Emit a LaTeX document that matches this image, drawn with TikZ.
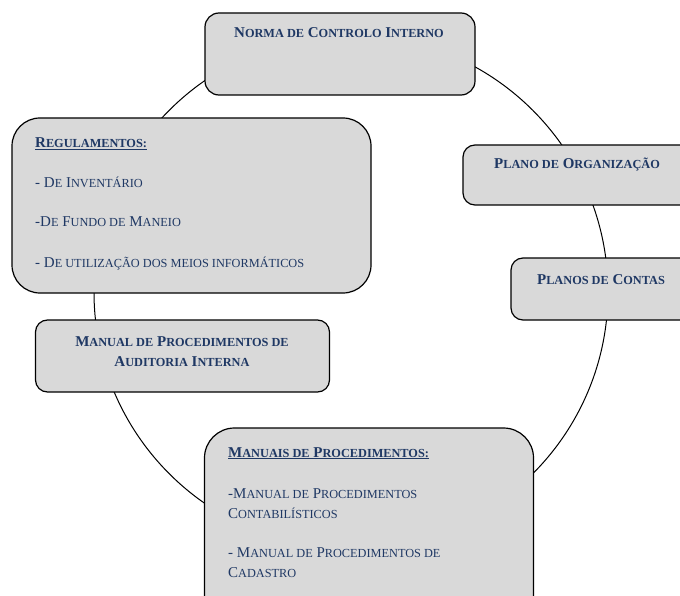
\documentclass[tikz,border=0pt]{standalone}
\usepackage{fontspec}
\setmainfont{Liberation Serif}
\newfontfamily\smallfont[Scale=0.82]{Liberation Serif}
\usepackage{tikz}
\usetikzlibrary{positioning}
\definecolor{inkblue}{RGB}{31,56,100}
\definecolor{cardgray}{RGB}{217,217,217}
\newcommand{\sm}[1]{{\smallfont #1}}
\tikzset{
    card/.style={draw=black, fill=cardgray, line width=1.2pt, inner sep=0pt},
    head/.style={text=inkblue, font=\fontsize{15}{18}\selectfont\bfseries, inner sep=0pt},
    body/.style={text=inkblue, font=\fontsize{15}{18}\selectfont, inner sep=0pt}
}

\begin{document}
\begin{tikzpicture}[x=1pt, y=-1pt]
    \useasboundingbox (0,0) rectangle (680,596);
    % ring behind the cards
    \draw[line width=1pt] (351,292) circle (257);
    % cards
    \node[card, minimum width=270, minimum height=82, rounded corners=14] (norma) at (340,54) {};
    \node[card, minimum width=359, minimum height=175, rounded corners=28] (regul) at (191.5,205.5) {};
    \node[card, minimum width=260, minimum height=60, rounded corners=12] (organ) at (593,175) {};
    \node[card, minimum width=220, minimum height=62, rounded corners=12] (contas) at (621,289) {};
    \node[card, minimum width=294, minimum height=72, rounded corners=12] (audit) at (182.5,356) {};
    \node[card, minimum width=329, minimum height=200, rounded corners=30] (manuais) at (369,528) {};
    % texts
    \node[head, anchor=base] (normaT) at (339,38) {N\sm{ORMA DE} C\sm{ONTROLO} I\sm{NTERNO}};
    \node[head, anchor=base west] (regulT) at (35,148) {\underline{R\sm{EGULAMENTOS:}}};
    \node[body, anchor=base west] (regulA) at (35,188) {- D\sm{E} I\sm{NVENTÁRIO}};
    \node[body, anchor=base west] (regulB) at (35,227) {-D\sm{E} F\sm{UNDO DE} M\sm{ANEIO}};
    \node[body, anchor=base west] (regulC) at (35,267) {- D\sm{E UTILIZAÇÃO DOS MEIOS INFORMÁTICOS}};
    \node[head, anchor=base] (organT) at (577,169) {P\sm{LANO DE} O\sm{RGANIZAÇÃO}};
    \node[head, anchor=base] (contasT) at (601,284) {P\sm{LANOS DE} C\sm{ONTAS}};
    \node[head, anchor=base] (auditA) at (182,346) {M\sm{ANUAL DE} P\sm{ROCEDIMENTOS DE}};
    \node[head, anchor=base] (auditB) at (182,366) {A\sm{UDITORIA} I\sm{NTERNA}};
    \node[head, anchor=base west] (manuaisT) at (228,457) {\underline{M\sm{ANUAIS DE} P\sm{ROCEDIMENTOS:}}};
    \node[body, anchor=base west] (manuaisA) at (228,498) {-M\sm{ANUAL DE} P\sm{ROCEDIMENTOS}};
    \node[body, anchor=base west] (manuaisB) at (228,518) {C\sm{ONTABILÍSTICOS}};
    \node[body, anchor=base west] (manuaisC) at (228,557) {- M\sm{ANUAL DE} P\sm{ROCEDIMENTOS DE}};
    \node[body, anchor=base west] (manuaisD) at (228,577) {C\sm{ADASTRO}};
\end{tikzpicture}
\end{document}
